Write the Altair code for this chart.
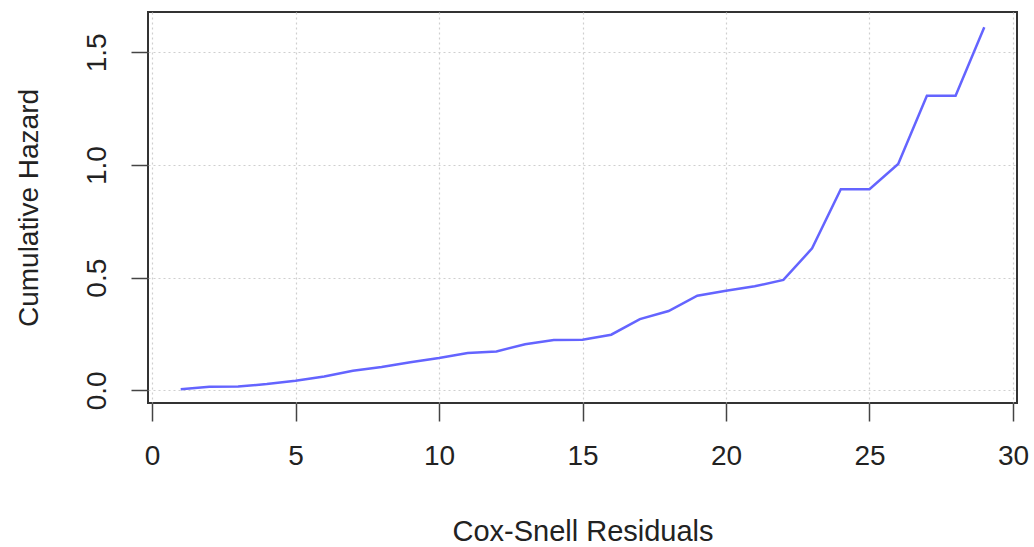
import altair as alt
import pandas as pd

residuals = list(range(1, 30))
cum_hazard = [0.005, 0.016, 0.017, 0.028, 0.043, 0.062, 0.087, 0.104, 0.125, 0.144,
              0.166, 0.173, 0.205, 0.224, 0.225, 0.247, 0.316, 0.352, 0.420, 0.442,
              0.462, 0.490, 0.630, 0.893, 0.893, 1.005, 1.307, 1.307, 1.611]
x_ticks = [0, 5, 10, 15, 20, 25, 30]
y_ticks = [0.0, 0.5, 1.0, 1.5]

df = pd.DataFrame({"x": residuals, "y": cum_hazard})

W, H = 869, 391
FONT = "Liberation Sans"

chart = alt.Chart(df).mark_line(color="#6464ff", strokeWidth=2.5).encode(
    x=alt.X("x:Q", scale=alt.Scale(domain=[-0.14, 30.14], nice=False, zero=False),
            axis=alt.Axis(values=x_ticks, title="Cox-Snell Residuals", format="d",
                          domain=False, tickSize=18, tickWidth=1.5, tickColor="#444",
                          labelFontSize=28, labelPadding=21, labelFont=FONT, labelColor="#222",
                          titleFont=FONT, titleFontSize=29, titleFontWeight="normal",
                          titleColor="#222", titleBaseline="alphabetic", titleY=137,
                          gridColor="#cfcfcf", gridDash=[2, 3], gridWidth=1.2)),
    y=alt.Y("y:Q", scale=alt.Scale(domain=[-0.056, 1.679], nice=False, zero=False),
            axis=alt.Axis(values=y_ticks, title="Cumulative Hazard", format=".1f",
                          domain=False, tickSize=17, tickWidth=1.5, tickColor="#444",
                          labelFontSize=28, labelPadding=20, labelFont=FONT, labelColor="#222",
                          labelAngle=270, labelAlign="center", labelBaseline="bottom",
                          titleFont=FONT, titleFontSize=28, titleFontWeight="normal",
                          titleColor="#222", titleAngle=270, titleBaseline="alphabetic",
                          titleAlign="center", titleX=-111, titleY=H / 2,
                          gridColor="#cfcfcf", gridDash=[2, 3], gridWidth=1.2)),
).properties(
    width=W, height=H,
    autosize=alt.AutoSizeParams(type="none"),
    padding={"left": 148, "top": 12, "right": 17, "bottom": 144},
).configure(
    background="white",
    view=alt.ViewConfig(stroke="#333", strokeWidth=2),
)

chart.save("out.html", embed_options={"renderer": "svg", "actions": False})
